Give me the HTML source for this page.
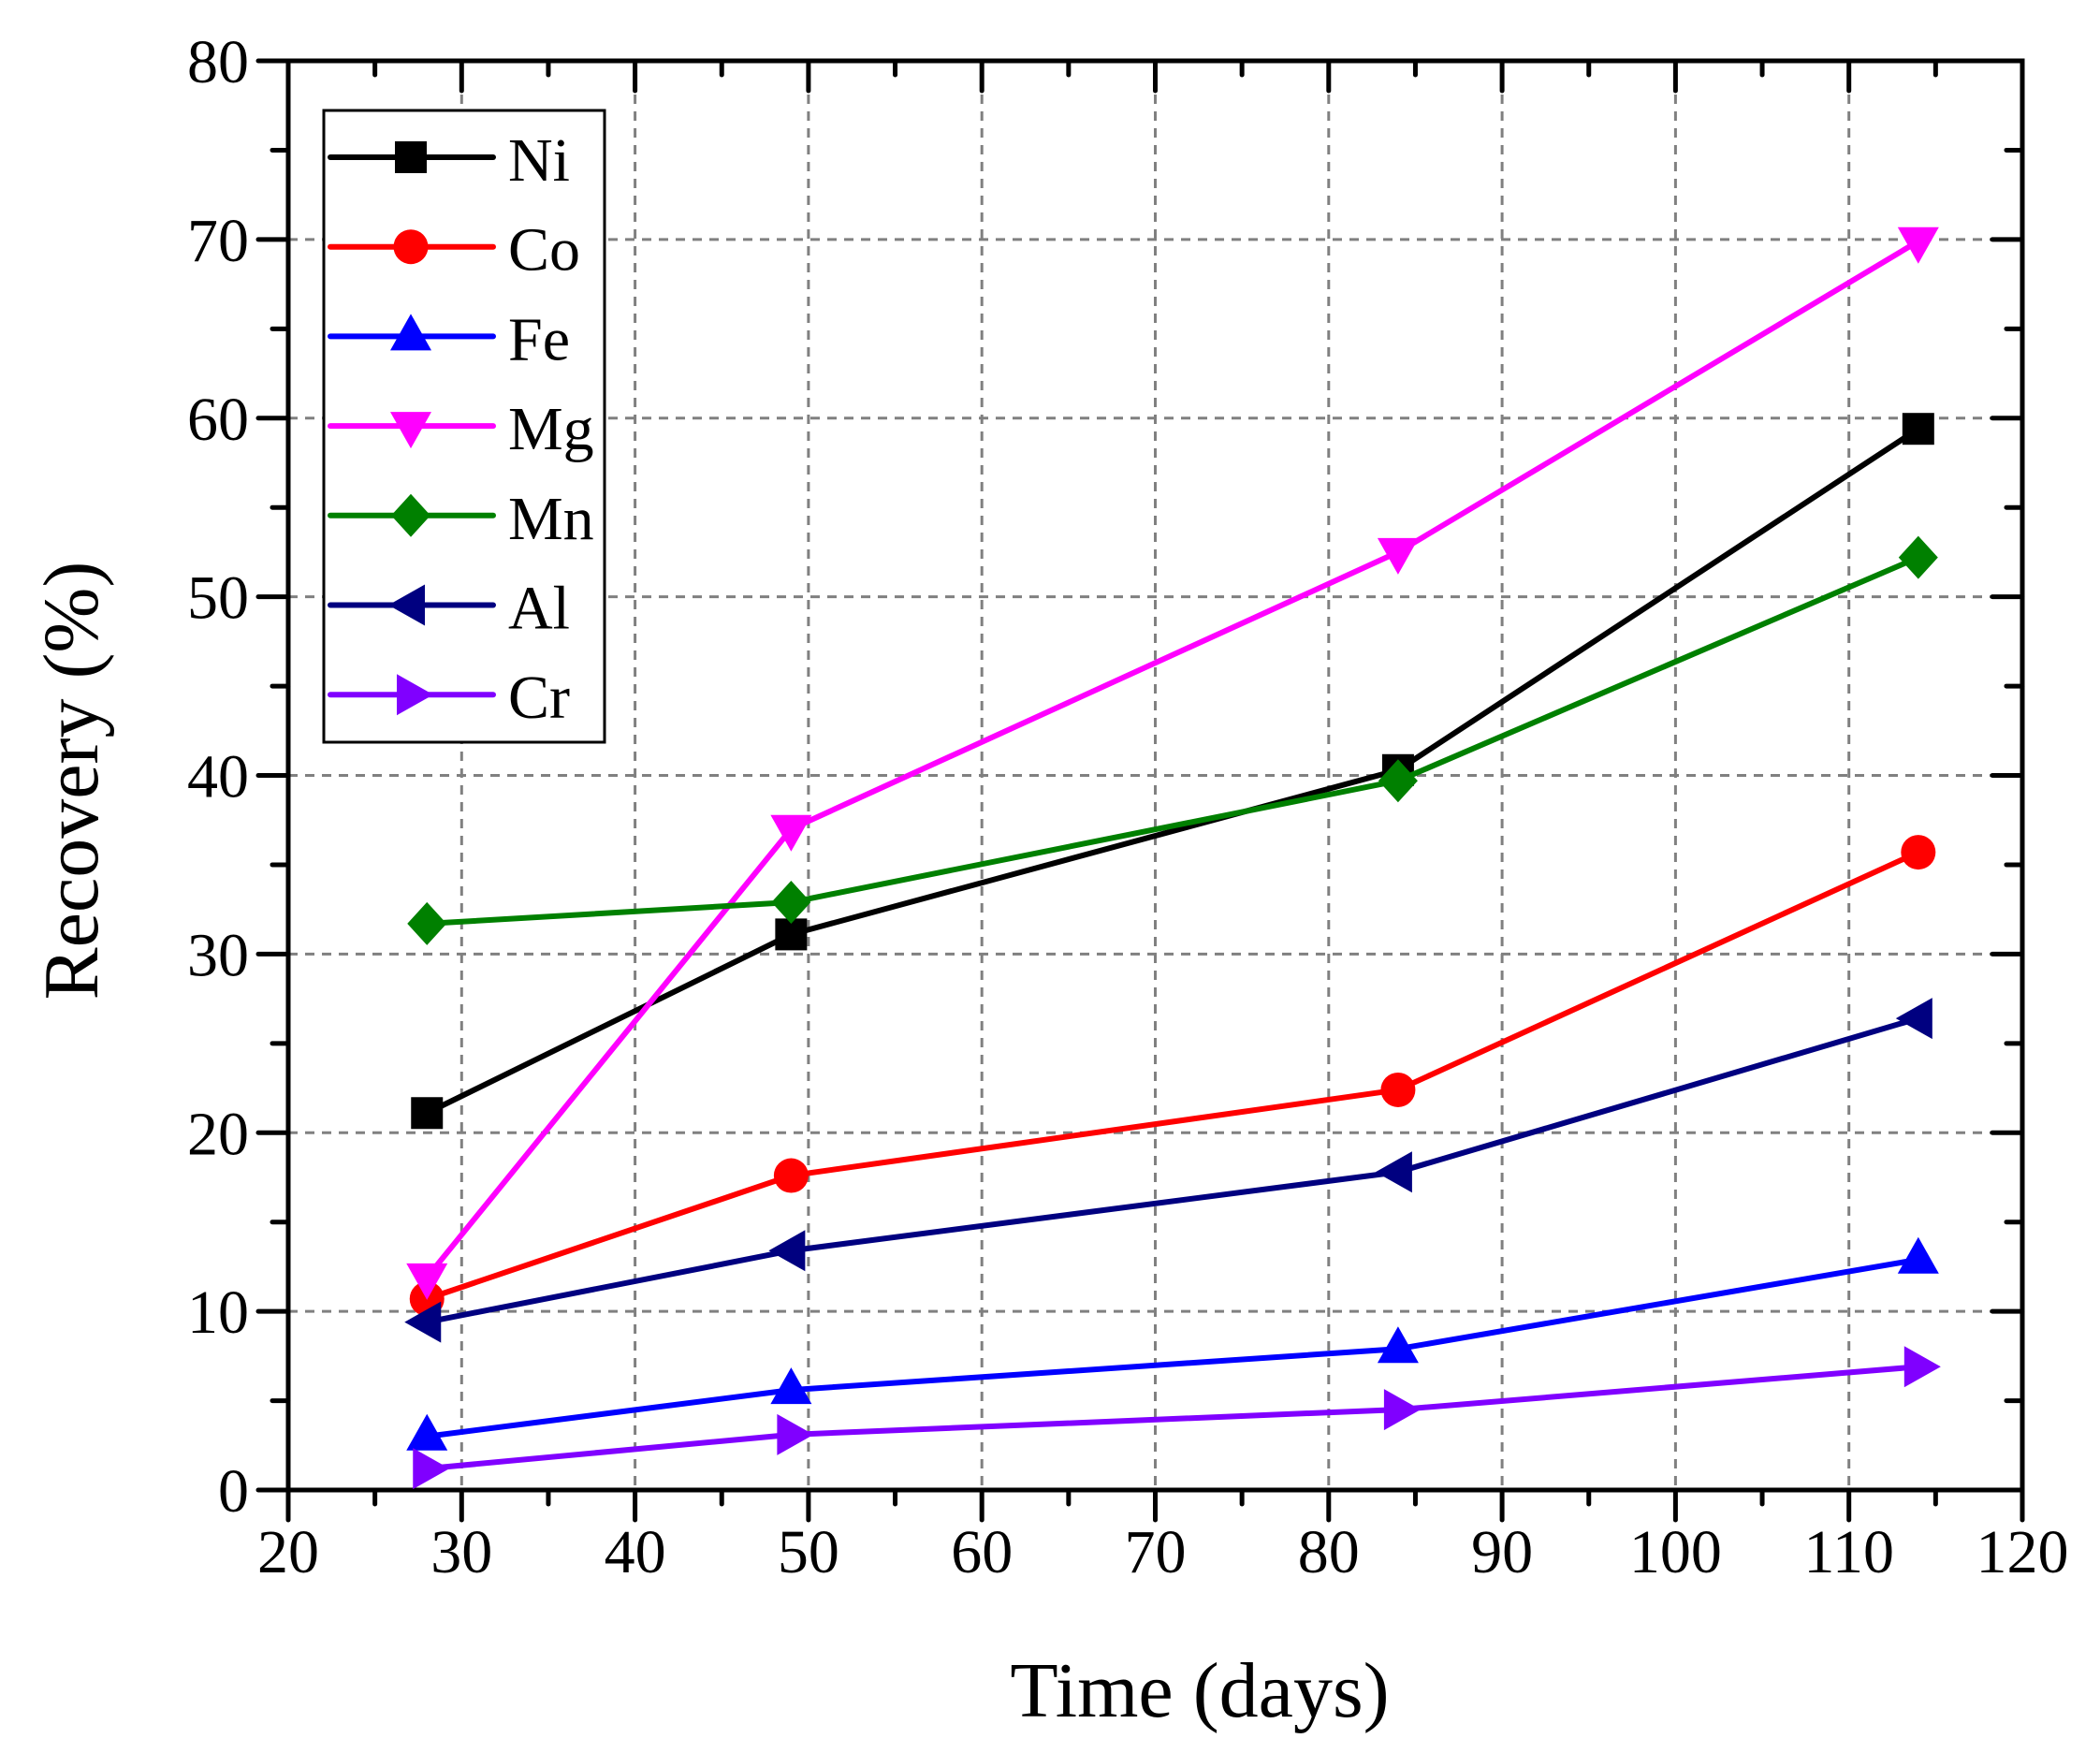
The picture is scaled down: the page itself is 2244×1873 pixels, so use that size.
<!DOCTYPE html>
<html><head><meta charset="utf-8"><style>
html,body{margin:0;padding:0;background:#fff;}
svg{display:block;}
text{font-family:"Liberation Serif",serif;fill:#000;}
</style></head><body>
<svg id="s" width="2244" height="1873" viewBox="0 0 2244 1873" xmlns="http://www.w3.org/2000/svg"></svg>
<script>
const L=308,R=2161,T=65,B=1592;
const X=v=>L+(v-20)*(R-L)/100, Y=v=>B-v*(B-T)/80;
let s='';
for(let v=30;v<=110;v+=10)s+=`<line x1="${X(v)}" y1="${T}" x2="${X(v)}" y2="${B}" stroke="#808080" stroke-width="3" stroke-dasharray="10,8"/>`;
for(let v=10;v<=70;v+=10)s+=`<line x1="${L}" y1="${Y(v)}" x2="${R}" y2="${Y(v)}" stroke="#808080" stroke-width="3" stroke-dasharray="10,8"/>`;
for(let v=20;v<=120;v+=5){const M=v%10==0,l=M?32:15;const x=X(v);
s+=`<line x1="${x}" y1="${B}" x2="${x}" y2="${B+l}" stroke="#000" stroke-width="5" stroke-linecap="round"/>`;
s+=`<line x1="${x}" y1="${T}" x2="${x}" y2="${T+l}" stroke="#000" stroke-width="5" stroke-linecap="round"/>`;
if(M)s+=`<text x="${x}" y="${B+88}" font-size="66" text-anchor="middle">${v}</text>`;}
for(let v=0;v<=80;v+=5){const M=v%10==0,l=M?32:17;const y=Y(v);
s+=`<line x1="${L-l}" y1="${y}" x2="${L}" y2="${y}" stroke="#000" stroke-width="5" stroke-linecap="round"/>`;
s+=`<line x1="${R-l}" y1="${y}" x2="${R}" y2="${y}" stroke="#000" stroke-width="5" stroke-linecap="round"/>`;
if(M)s+=`<text x="${L-42}" y="${y+23}" font-size="66" text-anchor="end">${v}</text>`;}
s+=`<rect x="${L}" y="${T}" width="${R-L}" height="${B-T}" fill="none" stroke="#000" stroke-width="5"/>`;
function mk(t,x,y,c){
 if(t=='sq')return `<rect x="${x-17}" y="${y-17}" width="34" height="34" fill="${c}"/>`;
 if(t=='ci')return `<circle cx="${x}" cy="${y}" r="18.5" fill="${c}"/>`;
 if(t=='up')return `<polygon points="${x},${y-24} ${x+22},${y+15} ${x-22},${y+15}" fill="${c}"/>`;
 if(t=='dn')return `<polygon points="${x},${y+24} ${x+22},${y-15} ${x-22},${y-15}" fill="${c}"/>`;
 if(t=='di')return `<polygon points="${x},${y-23} ${x+21},${y} ${x},${y+23} ${x-21},${y}" fill="${c}"/>`;
 if(t=='lt')return `<polygon points="${x-24},${y} ${x+15},${y-22} ${x+15},${y+22}" fill="${c}"/>`;
 if(t=='rt')return `<polygon points="${x+24},${y} ${x-15},${y-22} ${x-15},${y+22}" fill="${c}"/>`;
}
const xs=[28,49,84,114];
const S=[
['Ni','#000','sq',[21.1,31.1,40.3,59.4]],
['Co','#f00','ci',[10.7,17.6,22.4,35.7]],
['Fe','#00f','up',[3.0,5.6,7.9,12.9]],
['Mg','#f0f','dn',[11.9,37.0,52.5,69.9]],
['Mn','#008000','di',[31.7,32.9,39.7,52.2]],
['Al','#000080','lt',[9.4,13.4,17.8,26.4]],
['Cr','#8000ff','rt',[1.2,3.1,4.5,6.9]]];
S.forEach(([n,c,t,d])=>{
 s+=`<polyline points="${xs.map((x,i)=>X(x)+','+Y(d[i])).join(' ')}" fill="none" stroke="${c}" stroke-width="6" stroke-linejoin="round"/>`;
 xs.forEach((x,i)=>s+=mk(t,X(x),Y(d[i]),c));
});
s+=`<rect x="346" y="118" width="300" height="675" fill="#fff" stroke="#000" stroke-width="3"/>`;
S.forEach(([n,c,t,d],i)=>{const y=168+i*95.7;
 s+=`<line x1="353" y1="${y}" x2="527" y2="${y}" stroke="${c}" stroke-width="6" stroke-linecap="round"/>`;
 s+=mk(t,439,y,c);
 s+=`<text x="543" y="${y+25}" font-size="66">${n}</text>`;});
s+=`<text x="1282" y="1834" font-size="84" text-anchor="middle">Time (days)</text>`;
s+=`<text transform="translate(104,834) rotate(-90)" font-size="84" text-anchor="middle">Recovery (%)</text>`;
document.getElementById('s').innerHTML=s;
</script>
</body></html>
